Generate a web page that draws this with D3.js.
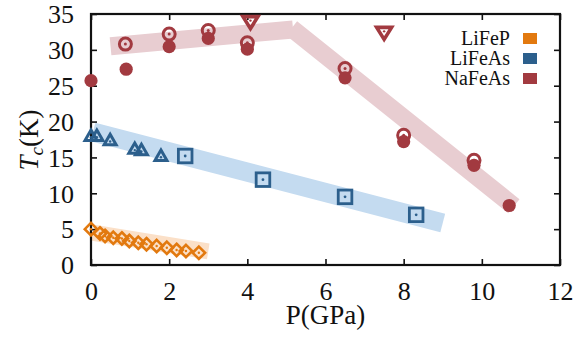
<!DOCTYPE html>
<html>
<head>
<meta charset="utf-8">
<script src="https://cdn.jsdelivr.net/npm/d3@7"></script>
<style>
html,body{margin:0;padding:0;background:#fff;}
</style>
</head>
<body>
<svg id="chart" width="587" height="337"></svg>
<script>
// ---- data ----
const xTicks = [0, 2, 4, 6, 8, 10, 12];
const yTicks = [0, 5, 10, 15, 20, 25, 30, 35];
const seriesNames = ["LiFeP", "LiFeAs", "NaFeAs"];
const seriesColors = ["#e2790f", "#2c5f8c", "#a23a40"];
const bandColors = ["#fbe0c8", "#c4dbf0", "#e8cdd1"];

// LiFeP (diamonds)
const lifepP = [0, 0.23, 0.36, 0.57, 0.79, 0.98, 1.21, 1.42, 1.68, 1.94, 2.19, 2.43, 2.76];
const lifepT = [5.0, 4.4, 4.05, 3.8, 3.7, 3.35, 3.1, 2.9, 2.65, 2.4, 2.1, 1.95, 1.7];
// LiFeAs (triangles up, squares)
const lifeasTriP = [0, 0.15, 0.49, 1.12, 1.29, 1.79];
const lifeasTriT = [18.1, 18.1, 17.5, 16.3, 16.1, 15.3];
const lifeasSqP = [2.41, 4.4, 6.5, 8.32];
const lifeasSqT = [15.2, 11.9, 9.5, 7.0];
// NaFeAs (filled circles, rings, triangles down)
const nafeasFillP = [0, 0.9, 2, 3, 4, 6.5, 8, 9.8, 10.7];
const nafeasFillT = [25.7, 27.3, 30.45, 31.6, 30.1, 26.1, 17.2, 13.9, 8.3];
const nafeasRingP = [0.88, 2, 3, 4, 6.5, 8, 9.8];
const nafeasRingT = [30.8, 32.2, 32.7, 31.0, 27.4, 18.1, 14.6];
const nafeasTriP = [4.08, 7.5];
const nafeasTriT = [33.8, 32.3];

// guide bands [P, T] end points
const lifepBand = [[0.05, 4.5], [3.0, 1.9]];
const lifeasBand = [[0.05, 18.55], [9.0, 5.85]];
const nafeasBand1 = [[0.5, 30.5], [5.17, 32.85]];
const nafeasBand2 = [[5.13, 33.0], [10.82, 8.2]];

// ---- chart ----
const FONT = '"Liberation Serif"';
const svg = d3.select("#chart");
const L = 91, R = 560, T = 14, B = 265;
const x = d3.scaleLinear().domain([0, 12]).range([L, R]);
const y = d3.scaleLinear().domain([0, 35]).range([B, T]);

const line = d3.line().x(d => x(d[0])).y(d => y(d[1]));
function band(pts, color, w) {
  svg.append("path").attr("d", line(pts)).attr("fill", "none")
    .attr("stroke", color).attr("stroke-width", w).attr("stroke-linecap", "butt");
}
band(lifepBand, bandColors[0], 16);
band(lifeasBand, bandColors[1], 19);
band(nafeasBand1, bandColors[2], 18);
band(nafeasBand2, bandColors[2], 18);

// axes
const fs = 26;
const gx = svg.append("g").attr("transform", `translate(0,${B})`)
  .call(d3.axisBottom(x).tickValues(xTicks).tickSize(-6).tickPadding(0).tickFormat(d3.format("d")));
const gxt = svg.append("g").attr("transform", `translate(0,${T})`)
  .call(d3.axisTop(x).tickValues(xTicks).tickSize(-6).tickFormat(""));
const gy = svg.append("g").attr("transform", `translate(${L},0)`)
  .call(d3.axisLeft(y).tickValues(yTicks).tickSize(-6).tickPadding(0).tickFormat(d3.format("d")));
const gyr = svg.append("g").attr("transform", `translate(${R},0)`)
  .call(d3.axisRight(y).tickValues(yTicks).tickSize(-6).tickFormat(""));
[gx, gxt, gy, gyr].forEach(g => {
  g.attr("font-family", FONT).attr("font-size", fs);
  g.select(".domain").remove();
  g.selectAll(".tick line").attr("stroke", "#111").attr("stroke-width", 1.6);
});
gx.selectAll(".tick text").attr("y", 35).attr("dy", 0).style("font-size", fs + "px")
  .style("font-family", FONT).attr("fill", "#111");
gy.selectAll(".tick text").attr("x", -17).attr("dy", "0.34em").style("font-size", fs + "px")
  .style("font-family", FONT).attr("fill", "#111");

// frame
svg.append("rect").attr("x", L).attr("y", T).attr("width", R - L).attr("height", B - T)
  .attr("fill", "none").attr("stroke", "#111").attr("stroke-width", 2.2);

// axis labels
svg.append("text").attr("x", (L + R) / 2).attr("y", 324).attr("text-anchor", "middle")
  .style("font-family", FONT).style("font-size", "27px").attr("fill", "#111").text("P(GPa)");
const yl = svg.append("text").attr("transform", "translate(38,140) rotate(-90)")
  .attr("text-anchor", "middle").style("font-family", FONT).style("font-size", "27px").attr("fill", "#111");
yl.append("tspan").style("font-style", "italic").text("T");
yl.append("tspan").style("font-style", "italic").style("font-size", "19px").attr("dy", 5).text("c");
yl.append("tspan").attr("dy", -5).text("(K)");

// markers
const zip = (a, b) => a.map((v, i) => [v, b[i]]);
const mk = svg.append("g");

// LiFeP diamonds
zip(lifepP, lifepT).forEach(d => {
  const cx = x(d[0]), cy = y(d[1]), s = 6.2;
  mk.append("path").attr("d", `M${cx},${cy - s}L${cx + s},${cy}L${cx},${cy + s}L${cx - s},${cy}Z`)
    .attr("fill", "none").attr("stroke", seriesColors[0]).attr("stroke-width", 2.6);
  mk.append("circle").attr("cx", cx).attr("cy", cy).attr("r", 1.2).attr("fill", seriesColors[0]);
});
// LiFeAs triangles up
zip(lifeasTriP, lifeasTriT).forEach(d => {
  const cx = x(d[0]), cy = y(d[1]), w = 6, h = 5.2;
  mk.append("path").attr("d", `M${cx},${cy - h}L${cx + w},${cy + h}L${cx - w},${cy + h}Z`)
    .attr("fill", "none").attr("stroke", seriesColors[1]).attr("stroke-width", 3).attr("stroke-linejoin", "miter");
  mk.append("circle").attr("cx", cx).attr("cy", cy + 2).attr("r", 1.2).attr("fill", seriesColors[1]);
});
// LiFeAs squares
zip(lifeasSqP, lifeasSqT).forEach(d => {
  const cx = x(d[0]), cy = y(d[1]), s = 6.8;
  mk.append("rect").attr("x", cx - s).attr("y", cy - s).attr("width", 2 * s).attr("height", 2 * s)
    .attr("fill", "none").attr("stroke", seriesColors[1]).attr("stroke-width", 2.8);
  mk.append("circle").attr("cx", cx).attr("cy", cy).attr("r", 1.4).attr("fill", seriesColors[1]);
});
// NaFeAs triangles down
zip(nafeasTriP, nafeasTriT).forEach(d => {
  const cx = x(d[0]), cy = y(d[1]), w = 7.5, h = 6;
  mk.append("path").attr("d", `M${cx - w},${cy - h}L${cx + w},${cy - h}L${cx},${cy + h}Z`)
    .attr("fill", "none").attr("stroke", seriesColors[2]).attr("stroke-width", 3.6);
  mk.append("circle").attr("cx", cx).attr("cy", cy - 2).attr("r", 1.2).attr("fill", seriesColors[2]);
});
// NaFeAs rings
zip(nafeasRingP, nafeasRingT).forEach(d => {
  const cx = x(d[0]), cy = y(d[1]);
  mk.append("circle").attr("cx", cx).attr("cy", cy).attr("r", 6).attr("fill", "none")
    .attr("stroke", seriesColors[2]).attr("stroke-width", 3);
  mk.append("circle").attr("cx", cx).attr("cy", cy).attr("r", 1.5).attr("fill", seriesColors[2]);
});
// NaFeAs filled
zip(nafeasFillP, nafeasFillT).forEach(d => {
  mk.append("circle").attr("cx", x(d[0])).attr("cy", y(d[1])).attr("r", 6.6).attr("fill", seriesColors[2]);
});

// legend
const lg = svg.append("g");
seriesNames.forEach((n, i) => {
  const by = 45 + i * 20;
  lg.append("text").attr("x", 510).attr("y", by).attr("text-anchor", "end")
    .style("font-family", FONT).style("font-size", "20px").attr("fill", "#111").text(n);
  lg.append("rect").attr("x", 523).attr("y", by - 12).attr("width", 14).attr("height", 11)
    .attr("fill", seriesColors[i]);
});
</script>
</body>
</html>
